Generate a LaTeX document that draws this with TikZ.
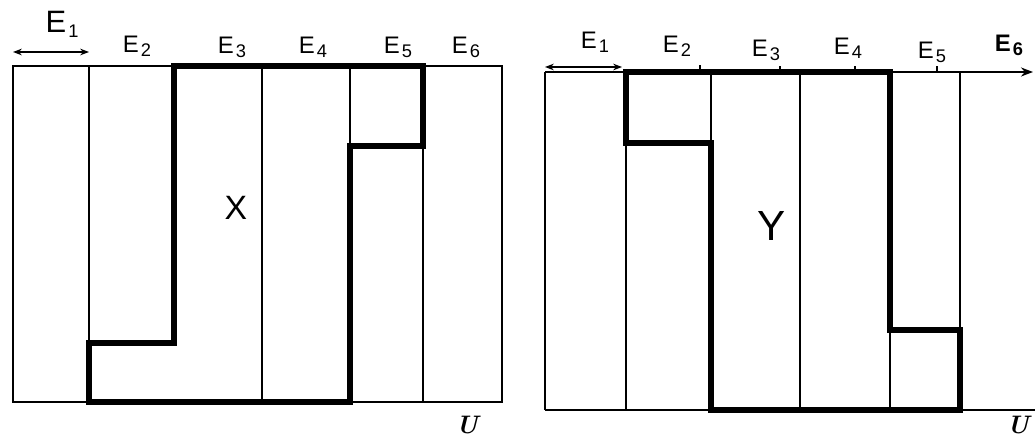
\documentclass[tikz,border=0pt]{standalone}
\usepackage{fontspec}
\usepackage{tikz}
\usetikzlibrary{arrows.meta}
\newfontfamily\handfont{Liberation Sans}
\newcommand{\esub}[1]{E\kern1.5pt\raisebox{-0.3ex}{\fontsize{13}{13}\selectfont #1}}

\begin{document}
\begin{tikzpicture}[
    x=0.025cm, y=-0.025cm,
    thinline/.style={line width=1.3pt, color=black},
    thickline/.style={line width=3.6pt, color=black, line join=miter},
    elabel/.style={font=\handfont\fontsize{17}{19}\selectfont, inner sep=0pt},
    ulabel/.style={font=\fontsize{18}{20}\selectfont\itshape\bfseries, inner sep=0pt},
    dimarrow/.style={{Stealth[length=2.2mm]}-{Stealth[length=2.2mm]}, line width=1.1pt}
]
\useasboundingbox (0,0) rectangle (1035,440);

% left picture: columns
\draw[thinline] (13,66) rectangle (502,402);
\draw[thinline] (89,66) -- (89,402);
\draw[thinline] (262,66) -- (262,402);
\draw[thinline] (350,66) -- (350,402);
\draw[thinline] (423,66) -- (423,402);
% left picture: set X
\draw[thickline] (89,402) -- (89,343) -- (174,343) -- (174,66) -- (423,66)
    -- (423,146) -- (350,146) -- (350,402) -- cycle;
\node (lx) at (236,208) {\handfont\fontsize{24}{26}\selectfont X};

% left picture: labels
\coordinate (la) at (13,52);
\coordinate (lb) at (89,52);
\draw[dimarrow] (la) -- (lb);
\node[elabel, font=\handfont\fontsize{22}{24}\selectfont] (le1) at (62,24) {\esub{1}};
\node[elabel] (le2) at (137,46) {\esub{2}};
\node[elabel] (le3) at (232,47) {\esub{3}};
\node[elabel] (le4) at (313,47) {\esub{4}};
\node[elabel] (le5) at (398,47) {\esub{5}};
\node[elabel] (le6) at (466,47) {\esub{6}};
\node[ulabel] (lu) at (467,425) {U};

% right picture: columns
\coordinate (rtl) at (545,72);
\coordinate (rtr) at (1033,72);
\draw[thinline, -{Stealth[length=3mm]}] (rtl) -- (rtr);
\draw[thinline] (545,410) -- (1035,410);
\draw[thinline] (545,72) -- (545,410);
\draw[thinline] (626,72) -- (626,410);
\draw[thinline] (711,72) -- (711,410);
\draw[thinline] (800,72) -- (800,410);
\draw[thinline] (890,72) -- (890,410);
\draw[thinline] (960,72) -- (960,410);
% right picture: ticks on the top line
\draw[thinline] (700,72) -- (700,65);
\draw[thinline] (780,72) -- (780,66);
\draw[thinline] (855,72) -- (855,66);
\draw[thinline] (937,72) -- (937,66);
% right picture: set Y
\draw[thickline] (626,72) -- (890,72) -- (890,330) -- (960,330) -- (960,410)
    -- (711,410) -- (711,143) -- (626,143) -- cycle;
\node (ry) at (772,226) {\handfont\fontsize{30}{32}\selectfont Y};

% right picture: labels
\coordinate (ra) at (545,67);
\coordinate (rb) at (622,67);
\draw[dimarrow] (ra) -- (rb);
\node[elabel] (re1) at (595,42) {\esub{1}};
\node[elabel] (re2) at (677,46) {\esub{2}};
\node[elabel] (re3) at (766,50) {\esub{3}};
\node[elabel] (re4) at (848,48) {\esub{4}};
\node[elabel] (re5) at (932,52) {\esub{5}};
\node[elabel, font=\handfont\bfseries\fontsize{17}{19}\selectfont] (re6) at (1009,45) {\esub{6}};
\node[ulabel] (ru) at (1018,425) {U};

\end{tikzpicture}
\end{document}
